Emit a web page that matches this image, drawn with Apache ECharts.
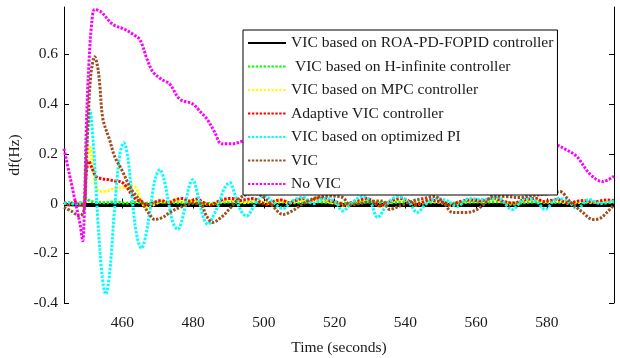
<!DOCTYPE html>
<html>
<head>
<meta charset="utf-8">
<script src="https://cdn.jsdelivr.net/npm/echarts@6/dist/echarts.min.js"></script>
<style>html,body{margin:0;padding:0;background:#fff}#c{width:620px;height:358px}</style>
</head>
<body>
<div id="c"></div>
<script>
var seriesNames = ['VIC based on ROA-PD-FOPID controller', ' VIC based on H-infinite controller', 'VIC based on MPC controller', 'Adaptive VIC controller', 'VIC based on optimized PI', 'VIC', 'No VIC'];
var xTicks = [460, 480, 500, 520, 540, 560, 580];
var yTicks = [-0.4, -0.2, 0, 0.2, 0.4, 0.6];

var blackData = [[443.5,-0.004],[449.0,-0.006],[449.3,0.012],[449.8,-0.008],[599,-0.008]];
var greenData = [[443.5,0.002],[446,0.0],[448.5,0.003],[449.2,0.004],[449.8,0.022],[450.6,0.012],[452,0.006],[455,0.003],[458,0.006],[461,0.002],[464,0.005],[467,0.001],[470,0.004],[473,0.006],[476,0.003],[479,0.005],[482,0.002],[485,0.0],[488,0.004],[491,0.006],[494,0.003],[497,0.005],[500,0.002],[503,0.004],[506,0.006],[509,0.003],[512,0.005],[515,0.007],[518,0.004],[521,0.002],[524,0.0],[527,0.004],[530,0.006],[533,0.002],[536,0.003],[539,0.006],[542,0.004],[545,0.002],[548,0.005],[551,0.003],[554,0.001],[557,0.004],[560,0.006],[563,0.005],[566,0.007],[569,0.003],[572,0.002],[575,0.005],[578,0.006],[581,0.004],[584,0.005],[587,0.003],[590,0.004],[593,0.005],[596,0.004],[599,0.005]];
var yellowData = [[443.5,0.004],[445,-0.004],[446.5,0.006],[448,-0.002],[449.0,0.0],[449.8,0.15],[450.8,0.228],[451.8,0.13],[452.8,0.06],[453.6,0.048],[455.5,0.05],[457.8,0.06],[460.5,0.064],[462.5,0.068],[463.7,0.065],[464.8,0.03],[466.2,-0.01],[467.5,-0.016],[469,-0.004],[471,0.008],[473,0.004],[475,0.012],[477,0.006],[479,0.01],[481,0.008],[483,0.0],[485,-0.004],[487,0.004],[489,0.01],[491,0.012],[493,0.008],[495,0.004],[497,0.012],[499,0.01],[501,0.0],[503,0.006],[505,0.01],[507,0.002],[509,0.008],[511,0.014],[513,0.006],[515,0.016],[517,0.014],[519,0.004],[521,0.0],[523,-0.01],[525,0.002],[527,0.01],[529,0.016],[531,0.006],[533,-0.012],[535,0.0],[537,0.012],[539,0.016],[541,0.008],[543,-0.006],[545,0.004],[547,0.01],[549,0.008],[551,0.0],[553,-0.008],[555,0.002],[557,0.008],[559,0.012],[561,0.008],[563,0.012],[565,0.018],[567,0.01],[569,0.0],[571,-0.002],[573,0.008],[575,0.014],[577,0.016],[579,0.006],[581,0.008],[583,0.012],[585,0.004],[587,0.0],[589,0.006],[591,0.01],[593,0.004],[595,0.006],[597,0.01],[599,0.008]];
var redData = [[443.5,0.005],[445,-0.005],[446.5,0.008],[448,-0.004],[449.2,0.0],[449.8,0.12],[450.5,0.17],[451.5,0.14],[452.5,0.11],[454,0.1],[456,0.096],[458,0.09],[459.5,0.088],[461,0.07],[462.5,0.04],[464,0.015],[465.5,0.008],[467,-0.006],[469,0.004],[471,0.012],[473,0.003],[475,0.015],[477,0.02],[479,0.01],[481,0.018],[483,0.004],[485,-0.006],[487,0.008],[489,0.018],[491,0.02],[493,0.012],[495,0.016],[497,0.02],[499,0.006],[501,-0.004],[503,0.01],[505,0.014],[507,0.004],[509,0.012],[511,0.02],[513,0.008],[515,0.022],[517,0.02],[519,0.01],[521,0.004],[523,-0.008],[525,0.006],[527,0.014],[529,0.02],[531,0.008],[533,-0.01],[535,0.004],[537,0.016],[539,0.02],[541,0.01],[543,-0.004],[545,0.006],[547,0.014],[549,0.01],[551,0.004],[553,-0.006],[555,0.006],[557,0.012],[559,0.014],[561,0.01],[563,0.016],[565,0.022],[567,0.012],[569,0.004],[571,0.002],[573,0.012],[575,0.018],[577,0.02],[579,0.008],[581,0.012],[583,0.016],[585,0.006],[587,0.004],[589,0.01],[591,0.012],[593,0.006],[595,0.01],[597,0.014],[599,0.012]];
var cyanData = [[443.5,0.0],[445,0.004],[446.5,-0.004],[448,0.003],[449.1,0.0],[449.9,0.2],[450.8,0.376],[451.9,0.22],[453.0,-0.05],[454.2,-0.28],[455.3,-0.364],[456.4,-0.28],[457.8,-0.02],[459.3,0.2],[460.4,0.244],[461.5,0.19],[462.9,0.0],[464.1,-0.13],[465.4,-0.18],[466.6,-0.13],[468.0,-0.01],[469.3,0.1],[470.6,0.136],[471.9,0.09],[473.1,0.0],[474.4,-0.08],[475.7,-0.104],[476.8,-0.07],[477.9,0.0],[478.9,0.07],[479.9,0.096],[480.9,0.06],[481.9,0.0],[483.0,-0.06],[484.2,-0.084],[485.7,-0.05],[487.3,0.0],[488.8,0.06],[490.4,0.084],[491.5,0.05],[492.6,0.0],[494,-0.04],[495.2,-0.05],[496.4,-0.03],[497.7,0.0],[499,0.025],[500.3,0.03],[503,0.0],[505.4,-0.02],[508,0.01],[511,0.025],[514,0.0],[517,0.02],[520,0.01],[522.3,-0.03],[525,0.005],[528,0.028],[530,0.01],[532.2,-0.056],[535,0.0],[538,0.028],[541,0.005],[543.3,-0.036],[546,0.0],[549,0.02],[552,0.01],[554.6,-0.012],[558,0.02],[562,0.016],[566,0.024],[570.2,-0.024],[574,0.02],[577,0.01],[579.5,-0.024],[583,0.02],[586,0.01],[588.5,-0.02],[592,0.016],[595,0.0],[599,0.01]];
var brownData = [[443.5,-0.015],[445.5,-0.03],[447.9,-0.05],[449.1,-0.03],[449.6,0.1],[450.2,0.3],[451.1,0.52],[452.2,0.59],[453.0,0.55],[453.6,0.48],[454.5,0.34],[456.4,0.256],[457.8,0.19],[459.8,0.136],[462.6,0.056],[465.5,0.004],[467.5,-0.04],[469.2,-0.064],[471.5,-0.055],[473.4,-0.036],[476.2,-0.016],[479.9,0.0],[481.9,0.0],[483.8,-0.05],[485.5,-0.076],[488,-0.055],[490.4,-0.02],[493,0.02],[495.2,0.036],[497.5,0.04],[499.7,0.028],[502.5,-0.01],[505.4,-0.044],[508,-0.03],[510.1,-0.01],[512.5,0.01],[514.9,0.024],[518.5,0.03],[522.3,0.024],[524.3,-0.005],[527,0.0],[530,0.008],[533.6,0.01],[535.6,-0.024],[537.5,-0.015],[539.3,-0.005],[542,0.01],[545,0.02],[548.3,0.028],[551,0.0],[553.4,-0.036],[557.4,-0.036],[560,-0.026],[562.5,0.0],[564.8,0.03],[568.5,0.028],[572.4,0.024],[575,0.03],[578.1,0.036],[581,0.04],[583.7,0.048],[586.5,0.008],[590.2,-0.036],[593,-0.064],[595,-0.06],[597,-0.036],[599,-0.005]];
var magentaData = [[443.5,0.22],[445,0.12],[446.5,0.02],[448,-0.08],[448.8,-0.15],[449.3,0.0],[449.8,0.3],[450.5,0.55],[451.3,0.72],[452.2,0.78],[454,0.77],[457.3,0.72],[460.7,0.70],[463,0.68],[464.9,0.66],[467,0.58],[468.6,0.53],[471,0.50],[473.4,0.48],[476.2,0.42],[479.9,0.40],[482,0.37],[483.9,0.34],[486,0.29],[488.1,0.24],[491.2,0.24],[494,0.25],[500,0.26],[510,0.27],[520,0.25],[530,0.27],[540,0.26],[550,0.28],[560,0.27],[570,0.25],[580,0.25],[582.8,0.236],[585,0.22],[588.4,0.19],[592.1,0.12],[595.8,0.088],[599,0.11]];

var seriesData = [blackData, greenData, yellowData, redData, cyanData, brownData, magentaData];
var seriesColors = ['#000000', '#00ff00', '#ffff00', '#ff0000', '#00ffff', '#9c4f1f', '#ff00ff'];

var FONT = 'Liberation Serif';
var series = seriesNames.map(function (n, i) {
  return {
    name: n, type: 'line', data: seriesData[i], showSymbol: false, symbol: 'none',
    smooth: 0.35, z: 2 + i,
    lineStyle: i === 0 ? { color: seriesColors[i], width: 3, type: 'solid' } : { color: seriesColors[i], width: 3, type: [2.4, 1.5] },
    itemStyle: { color: seriesColors[i] }
  };
});

function xAx(pos, showLabel) {
  return {
    type: 'value', position: pos, min: 443.5, max: 599,
    axisLine: { show: true, lineStyle: { color: '#000', width: 1 } },
    axisTick: { show: true, inside: true, length: 5, customValues: xTicks, lineStyle: { color: '#000' } },
    axisLabel: { show: showLabel, customValues: xTicks, fontFamily: FONT, fontSize: 15.5, color: '#1a1a1a', margin: 12 },
    splitLine: { show: false },
    name: showLabel ? 'Time (seconds)' : '', nameLocation: 'middle', nameGap: 37,
    nameTextStyle: { fontFamily: FONT, fontSize: 15.5, color: '#1a1a1a' }
  };
}
function yAx(pos, showLabel) {
  return {
    type: 'value', position: pos, min: -0.4, max: 0.79,
    axisLine: { show: true, lineStyle: { color: '#000', width: 1 } },
    axisTick: { show: true, inside: true, length: 5, customValues: yTicks, lineStyle: { color: '#000' } },
    axisLabel: { show: showLabel, customValues: yTicks, fontFamily: FONT, fontSize: 15.5, color: '#1a1a1a', margin: 6 },
    splitLine: { show: false },
    name: showLabel ? 'df(Hz)' : '', nameLocation: 'middle', nameGap: 33, nameRotate: 90,
    nameTextStyle: { fontFamily: FONT, fontSize: 15.5, color: '#1a1a1a' }
  };
}

var chart = echarts.init(document.getElementById('c'), null, { renderer: 'canvas' });
chart.setOption({
  animation: false,
  backgroundColor: '#fff',
  grid: { left: 64, right: 6, top: 7, bottom: 55, containLabel: false, outerBoundsMode: 'none' },
  xAxis: [xAx('bottom', true), xAx('top', false)],
  yAxis: [yAx('left', true), yAx('right', false)],
  legend: {
    show: true, orient: 'vertical', left: 243, top: 30,
    padding: [5, 4, 3, 4], itemWidth: 38, itemHeight: 16, itemGap: 7.5,
    backgroundColor: '#fff', borderColor: '#000', borderWidth: 1, borderRadius: 0,
    itemStyle: { opacity: 0 },
    textStyle: { fontFamily: FONT, fontSize: 15.6, color: '#1a1a1a' },
    data: seriesNames, z: 20
  },
  series: series
});
</script>
</body>
</html>
